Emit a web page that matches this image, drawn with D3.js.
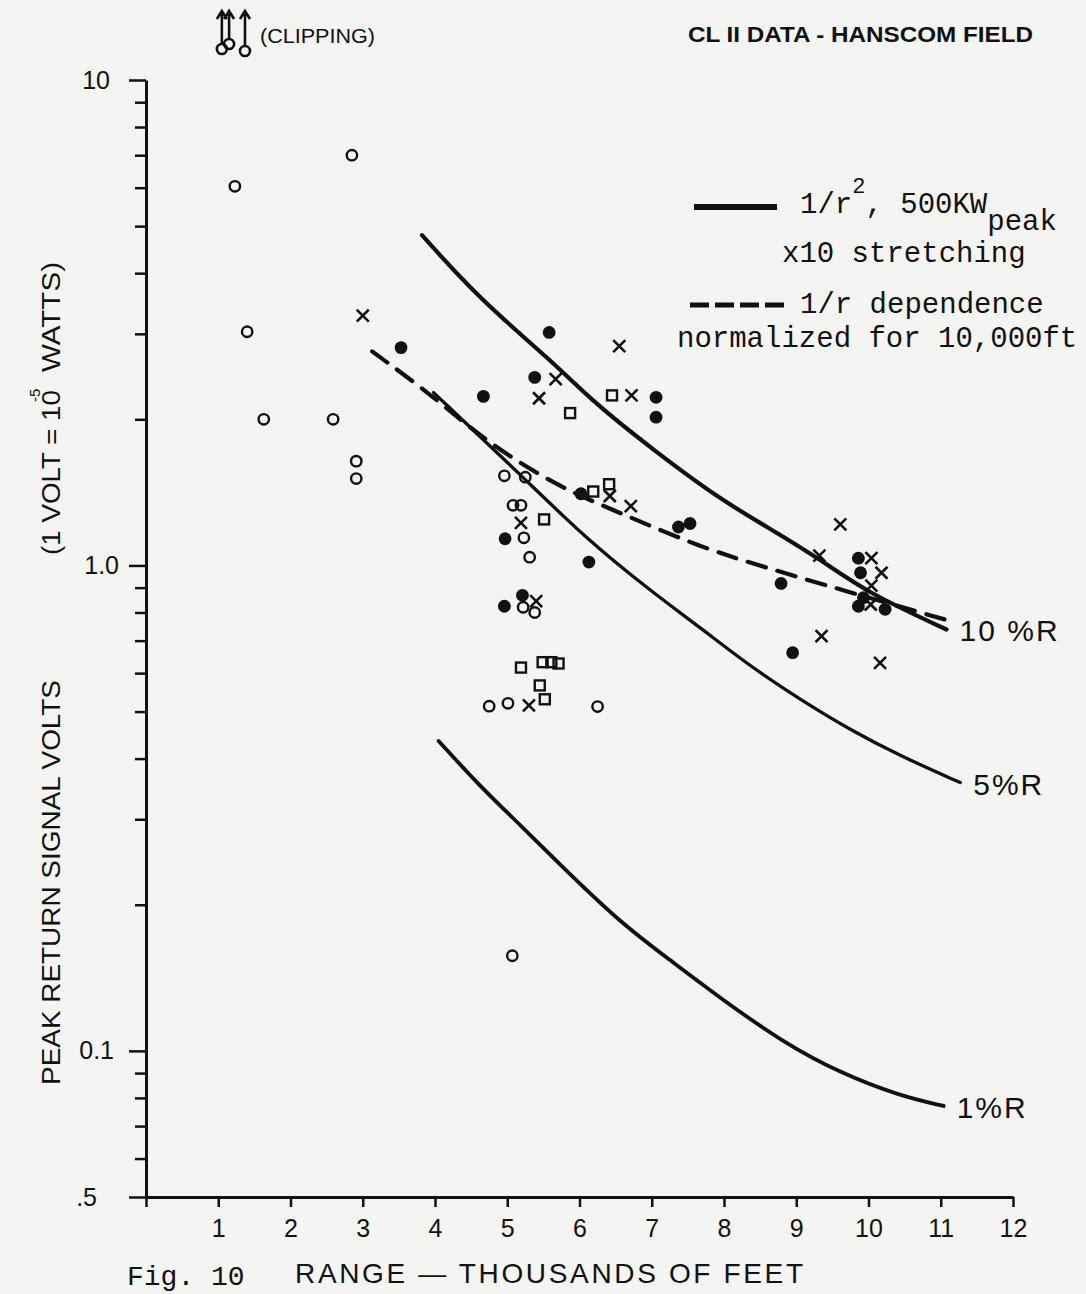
<!DOCTYPE html>
<html>
<head>
<meta charset="utf-8">
<script src="https://cdn.jsdelivr.net/npm/d3@7"></script>
<style>
  body { margin: 0; background: #f4f4f2; }
  svg { display: block; }
  .lettering { font-family: "Liberation Sans", "DejaVu Sans", sans-serif; fill: #111; }
  .typed { font-family: "Liberation Mono", "DejaVu Sans Mono", monospace; fill: #111; }
</style>
</head>
<body>
<div id="chart"></div>
<script>
// range in thousands of feet, signal in volts
var openCircles = [[1.23,6.04],[2.85,7.0],[1.40,3.03],[1.63,2.0],[2.59,2.0],[2.91,1.64],[2.91,1.51],
  [4.96,1.53],[5.25,1.52],[5.08,1.33],[5.19,1.33],[5.23,1.14],[5.31,1.04],[5.22,0.82],[5.38,0.80],
  [4.75,0.513],[5.01,0.52],[6.25,0.512],[5.07,0.157]];
var filledCircles = [[3.53,2.81],[4.67,2.23],[5.38,2.44],[5.58,3.02],[7.06,2.22],[7.06,2.02],[6.02,1.405],
  [7.37,1.20],[7.53,1.22],[4.97,1.135],[6.13,1.016],[4.96,0.824],[5.21,0.868],[8.79,0.918],[8.95,0.661],
  [9.86,1.035],[9.89,0.966],[9.86,0.824],[9.93,0.858],[10.23,0.812]];
var crosses = [[3.0,3.27],[6.55,2.83],[5.67,2.42],[5.44,2.21],[6.72,2.24],[6.42,1.39],[6.71,1.325],
  [5.19,1.224],[5.40,0.844],[5.30,0.515],[9.61,1.215],[9.32,1.048],[10.04,1.035],[10.18,0.966],
  [10.04,0.909],[10.03,0.831],[9.35,0.715],[10.16,0.630]];
var squares = [[6.45,2.24],[5.87,2.06],[6.19,1.42],[6.41,1.47],[5.51,1.244],[5.19,0.616],[5.49,0.632],
  [5.61,0.632],[5.71,0.628],[5.45,0.566],[5.52,0.530]];
// points above the top of the scale
var clipped = [1.05, 1.15, 1.37];

// curves
var curve10 = [[3.82,4.79],[4.62,3.53],[5.64,2.62],[6.19,2.17],[7.02,1.73],[7.94,1.37],[8.6,1.2],[9.33,1.03],[9.97,0.88],[11.08,0.738]];
var curve5 = [[3.98,2.27],[5.18,1.54],[6.10,1.131],[7.02,0.878],[7.67,0.745],[8.36,0.62],[9.05,0.53],[9.74,0.459],[10.44,0.405],[11.27,0.357]];
var curve1 = [[4.05,0.435],[4.62,0.351],[5.18,0.292],[5.73,0.242],[6.56,0.184],[7.25,0.154],[7.9,0.13],[8.82,0.104],[9.61,0.090],[10.44,0.0807],[11.04,0.077]];
var curveDash = [[3.13,2.76],[3.98,2.23],[4.72,1.79],[5.73,1.445],[6.56,1.284],[7.67,1.09],[8.59,0.989],[9.61,0.892],[11.08,0.772]];
var curveNames = ["10 %R", "5%R", "1%R"];

var xTicks = d3.range(0, 13);
var yMajor = [10, 1, 0.1, 0.05];
var yLabels = { 10: "10", 1: "1.0", 0.1: "0.1", 0.05: ".5" };
var yLabelShift = { 10: -9, 1: 0, 0.1: -5, 0.05: -22 };

var width = 1086, height = 1294;
var ink = "#111";

var svg = d3.select("#chart").append("svg")
  .attr("width", width).attr("height", height);

var x = d3.scaleLinear().domain([0, 12]).range([146, 1013]);
var y = d3.scaleLog().domain([0.05, 10]).range([1197, 80]);

// y ticks: every 1..9 inside each decade
var yTicks = [];
[0.01, 0.1, 1].forEach(function (dec) {
  for (var k = 1; k <= 9; k++) {
    var v = +(dec * k).toPrecision(3);
    if (v >= 0.05 && v <= 10) yTicks.push(v);
  }
});
yTicks.push(10);

var axisY = d3.axisLeft(y).tickValues(yTicks).tickSizeInner(11).tickSizeOuter(0).tickPadding(16)
  .tickFormat(function (d) { return yLabels[d] || ""; });
var gy = svg.append("g").attr("transform", "translate(" + x(0) + ",0)").call(axisY);
gy.select(".domain").attr("stroke", ink).attr("stroke-width", 3);
gy.selectAll(".tick line").attr("stroke", ink).attr("stroke-width", 2.5)
  .attr("x2", function (d) { return yMajor.indexOf(d) >= 0 ? -17 : -11; });
gy.selectAll(".tick text").attr("class", "lettering").attr("font-size", 25).attr("fill", ink)
  .attr("dx", function (d) { return yLabelShift[d] || 0; });

var axisX = d3.axisBottom(x).tickValues(xTicks).tickSizeInner(10).tickSizeOuter(0).tickPadding(12)
  .tickFormat(function (d) { return d === 0 ? "" : d; });
var gx = svg.append("g").attr("transform", "translate(0," + y(0.05) + ")").call(axisX);
gx.select(".domain").attr("stroke", ink).attr("stroke-width", 3);
gx.selectAll(".tick line").attr("stroke", ink).attr("stroke-width", 2.5);
gx.selectAll(".tick text").attr("class", "lettering").attr("font-size", 25).attr("fill", ink);

// curves
var line = d3.line()
  .x(function (d) { return x(d[0]); })
  .y(function (d) { return y(d[1]); })
  .curve(d3.curveBasis);

svg.append("path").datum(curve10).attr("d", line)
  .attr("fill", "none").attr("stroke", ink).attr("stroke-width", 4.2).attr("stroke-linecap", "round");
svg.append("path").datum(curve5).attr("d", line)
  .attr("fill", "none").attr("stroke", ink).attr("stroke-width", 3.3).attr("stroke-linecap", "round");
svg.append("path").datum(curve1).attr("d", line)
  .attr("fill", "none").attr("stroke", ink).attr("stroke-width", 3.8).attr("stroke-linecap", "round");
svg.append("path").datum(curveDash).attr("d", line)
  .attr("fill", "none").attr("stroke", ink).attr("stroke-width", 4.2)
  .attr("stroke-dasharray", "19,12").attr("stroke-linecap", "round");

// curve end labels
[curve10, curve5, curve1].forEach(function (c, i) {
  var last = c[c.length - 1];
  svg.append("text").attr("class", "lettering")
    .attr("x", x(last[0]) + 13).attr("y", y(last[1]) + 12)
    .attr("font-size", 30).attr("letter-spacing", 2)
    .text(curveNames[i]);
});

// data markers
svg.append("g").selectAll("circle").data(openCircles).join("circle")
  .attr("cx", function (d) { return x(d[0]); })
  .attr("cy", function (d) { return y(d[1]); })
  .attr("r", 5.2).attr("fill", "none").attr("stroke", ink).attr("stroke-width", 2.4);

svg.append("g").selectAll("circle").data(filledCircles).join("circle")
  .attr("cx", function (d) { return x(d[0]); })
  .attr("cy", function (d) { return y(d[1]); })
  .attr("r", 6.4).attr("fill", ink);

svg.append("g").selectAll("path").data(crosses).join("path")
  .attr("d", function (d) {
    var cx = x(d[0]), cy = y(d[1]), s = 6;
    return "M" + (cx - s) + "," + (cy - s) + "L" + (cx + s) + "," + (cy + s) +
           "M" + (cx - s) + "," + (cy + s) + "L" + (cx + s) + "," + (cy - s);
  })
  .attr("stroke", ink).attr("stroke-width", 2.6).attr("fill", "none");

svg.append("g").selectAll("rect").data(squares).join("rect")
  .attr("x", function (d) { return x(d[0]) - 5; })
  .attr("y", function (d) { return y(d[1]) - 5; })
  .attr("width", 10).attr("height", 10)
  .attr("fill", "none").attr("stroke", ink).attr("stroke-width", 2.4);

// clipped points: arrows pointing up above the scale
var clipY = [49, 44, 51];
var gc = svg.append("g");
clipped.forEach(function (v, i) {
  var cx = x(v);
  gc.append("path")
    .attr("d", "M" + cx + "," + (clipY[i] - 5) + "V12M" + (cx - 5) + ",19L" + cx + ",11L" + (cx + 5) + ",19")
    .attr("stroke", ink).attr("stroke-width", 2.6).attr("fill", "none");
  gc.append("circle").attr("cx", cx).attr("cy", clipY[i]).attr("r", 5)
    .attr("fill", "none").attr("stroke", ink).attr("stroke-width", 2.6);
});
svg.append("text").attr("class", "lettering").attr("x", 260).attr("y", 43)
  .attr("font-size", 21).attr("textLength", 115).attr("lengthAdjust", "spacingAndGlyphs")
  .text("(CLIPPING)");

// title
svg.append("text").attr("class", "lettering").attr("x", 688).attr("y", 42)
  .attr("font-size", 22).attr("font-weight", "bold")
  .attr("textLength", 345).attr("lengthAdjust", "spacingAndGlyphs")
  .text("CL II  DATA - HANSCOM  FIELD");

// legend
svg.append("line").attr("x1", 694).attr("x2", 777).attr("y1", 207).attr("y2", 207)
  .attr("stroke", ink).attr("stroke-width", 6);
var lg = svg.append("text").attr("class", "typed").attr("x", 800).attr("y", 213).attr("font-size", 29);
lg.append("tspan").text("1/r");
lg.append("tspan").attr("dy", -20).attr("font-size", 22).text("2");
lg.append("tspan").attr("dy", 20).text(", 500KW");
lg.append("tspan").attr("dy", 17).text("peak");
svg.append("text").attr("class", "typed").attr("x", 782).attr("y", 262).attr("font-size", 29)
  .text("x10 stretching");
svg.append("line").attr("x1", 690).attr("x2", 785).attr("y1", 305).attr("y2", 305)
  .attr("stroke", ink).attr("stroke-width", 5).attr("stroke-dasharray", "19,6");
svg.append("text").attr("class", "typed").attr("x", 800).attr("y", 313).attr("font-size", 29)
  .text("1/r dependence");
svg.append("text").attr("class", "typed").attr("x", 677).attr("y", 347).attr("font-size", 29)
  .text("normalized for 10,000ft");

// axis titles
svg.append("text").attr("class", "lettering").attr("x", 295).attr("y", 1283)
  .attr("font-size", 28).attr("textLength", 508).attr("lengthAdjust", "spacing")
  .text("RANGE — THOUSANDS  OF  FEET");
svg.append("text").attr("class", "typed").attr("x", 127).attr("y", 1285).attr("font-size", 28)
  .text("Fig. 10");

var yt = svg.append("g").attr("transform", "translate(60,0) rotate(-90)");
yt.append("text").attr("class", "lettering").attr("x", -1085).attr("y", 0)
  .attr("font-size", 26).attr("textLength", 405).attr("lengthAdjust", "spacingAndGlyphs")
  .text("PEAK RETURN  SIGNAL  VOLTS");
yt.append("text").attr("class", "lettering").attr("x", -555).attr("y", 0)
  .attr("font-size", 26).attr("textLength", 165).attr("lengthAdjust", "spacingAndGlyphs")
  .text("(1 VOLT = 10");
yt.append("text").attr("class", "lettering").attr("x", -402).attr("y", -20)
  .attr("font-size", 15).text("-5");
yt.append("text").attr("class", "lettering").attr("x", -372).attr("y", 0)
  .attr("font-size", 26).attr("textLength", 110).attr("lengthAdjust", "spacingAndGlyphs")
  .text("WATTS)");
</script>
</body>
</html>
